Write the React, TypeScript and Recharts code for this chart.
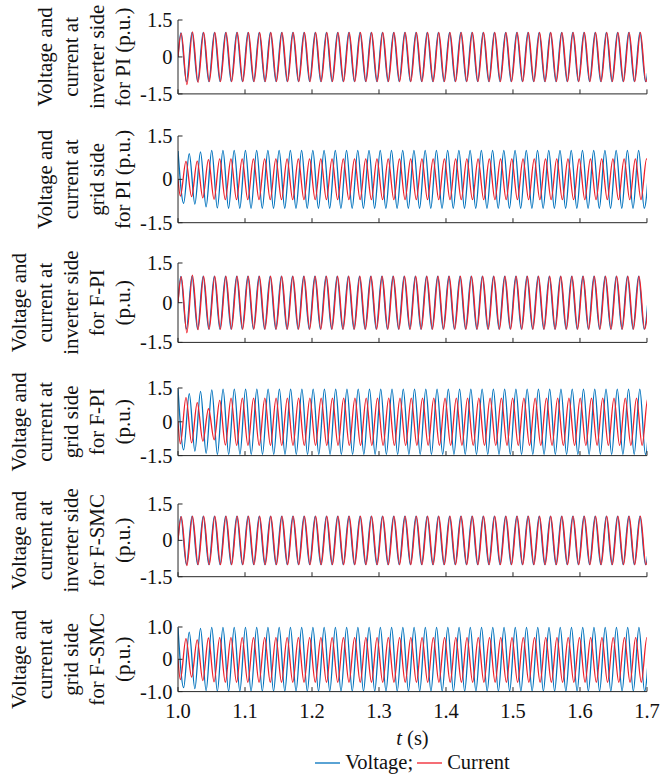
import React from "react"
import { LineChart, Line, XAxis, YAxis, Legend } from "recharts"

// Each trace is stored as its successive extrema (peak, trough, peak, ...) in p.u.,
// read off the figure. One extremum past 1.7 s is kept so the clip cuts the trace.

const TIME_TICKS = [1.0, 1.1, 1.2, 1.3, 1.4, 1.5, 1.6, 1.7]
const WIDE_TICKS = [-1.5, 0, 1.5]
const NARROW_TICKS = [-1, 0, 1]

// period of the waves in each panel (s)
const PERIODS = [0.016714, 0.01677, 0.016666, 0.016812, 0.016714, 0.01678]
// time of the first extremum of each trace (s)
const VOLTAGE_FIRST = [1.00418, 1.0, 1.00417, 1.0, 1.00418, 1.0]
const CURRENT_FIRST = [1.00488, 1.0035, 1.00487, 1.0035, 1.00488, 1.0035]
// value at t = 1.0 s when the trace does not start on an extremum
const VOLTAGE_START = [0, null, 0, null, 0, null]
const CURRENT_START = [0, 0, 0, 0, 0, 0]

const PI_INV_VOLTAGE = [
  0.98, -1, 1, -1, 1, -1, 1, -1, 1, -1,
  1, -1, 1, -1, 1, -1, 1, -1, 1, -1,
  1, -1, 1, -1, 1, -1, 1, -1, 1, -1,
  1, -1, 1, -1, 1, -1, 1, -1, 1, -1,
  1, -1, 1, -1, 1, -1, 1, -1, 1, -1,
  1, -1, 1, -1, 1, -1, 1, -1, 1, -1,
  1, -1, 1, -1, 1, -1, 1, -1, 1, -1,
  1, -1, 1, -1, 1, -1, 1, -1, 1, -1,
  1, -1, 1, -1, 1,
]
const PI_INV_CURRENT = [
  0.97, -1.12, 1.02, -1.03, 1, -1, 1, -1, 1, -1,
  1, -1, 1, -1, 1, -1, 1, -1, 1, -1,
  1, -1, 1, -1, 1, -1, 1, -1, 1, -1,
  1, -1, 1, -1, 1, -1, 1, -1, 1, -1,
  1, -1, 1, -1, 1, -1, 1, -1, 1, -1,
  1, -1, 1, -1, 1, -1, 1, -1, 1, -1,
  1, -1, 1, -1, 1, -1, 1, -1, 1, -1,
  1, -1, 1, -1, 1, -1, 1, -1, 1, -1,
  1, -1, 1, -1, 1,
]
const PI_GRID_VOLTAGE = [
  0.98, -0.83, 0.89, -0.86, 0.95, -0.95, 1, -0.99, 1, -1,
  1, -1, 1, -1, 1, -1, 1, -1, 1, -1,
  1, -1, 1, -1, 1, -1, 1, -1, 1, -1,
  1, -1, 1, -1, 1, -1, 1, -1, 1, -1,
  1, -1, 1, -1, 1, -1, 1, -1, 1, -1,
  1, -1, 1, -1, 1, -1, 1, -1, 1, -1,
  1, -1, 1, -1, 1, -1, 1, -1, 1, -1,
  1, -1, 1, -1, 1, -1, 1, -1, 1, -1,
  1, -1, 1, -1, 1,
]
const PI_GRID_CURRENT = [
  -0.58, 0.62, -0.6, 0.63, -0.64, 0.68, -0.69, 0.71, -0.7, 0.71,
  -0.7, 0.71, -0.7, 0.71, -0.7, 0.71, -0.7, 0.71, -0.7, 0.71,
  -0.7, 0.71, -0.7, 0.71, -0.7, 0.71, -0.7, 0.71, -0.7, 0.71,
  -0.7, 0.71, -0.7, 0.71, -0.7, 0.71, -0.7, 0.71, -0.7, 0.71,
  -0.7, 0.71, -0.7, 0.71, -0.7, 0.71, -0.7, 0.71, -0.7, 0.71,
  -0.7, 0.71, -0.7, 0.71, -0.7, 0.71, -0.7, 0.71, -0.7, 0.71,
  -0.7, 0.71, -0.7, 0.71, -0.7, 0.71, -0.7, 0.71, -0.7, 0.71,
  -0.7, 0.71, -0.7, 0.71, -0.7, 0.71, -0.7, 0.71, -0.7, 0.71,
  -0.7, 0.71, -0.7, 0.71, -0.7,
]
const FPI_INV_VOLTAGE = [
  0.99, -1, 1, -1, 1, -1, 1, -1, 1, -1,
  1, -1, 1, -1, 1, -1, 1, -1, 1, -1,
  1, -1, 1, -1, 1, -1, 1, -1, 1, -1,
  1, -1, 1, -1, 1, -1, 1, -1, 1, -1,
  1, -1, 1, -1, 1, -1, 1, -1, 1, -1,
  1, -1, 1, -1, 1, -1, 1, -1, 1, -1,
  1, -1, 1, -1, 1, -1, 1, -1, 1, -1,
  1, -1, 1, -1, 1, -1, 1, -1, 1, -1,
  1, -1, 1, -1, 1,
]
const FPI_INV_CURRENT = [
  0.98, -1.14, 1.04, -1.02, 1, -1, 1, -1, 1, -1,
  1, -1, 1, -1, 1, -1, 1, -1, 1, -1,
  1, -1, 1, -1, 1, -1, 1, -1, 1, -1,
  1, -1, 1, -1, 1, -1, 1, -1, 1, -1,
  1, -1, 1, -1, 1, -1, 1, -1, 1, -1,
  1, -1, 1, -1, 1, -1, 1, -1, 1, -1,
  1, -1, 1, -1, 1, -1, 1, -1, 1, -1,
  1, -1, 1, -1, 1, -1, 1, -1, 1, -1,
  1, -1, 1, -1, 1,
]
const FPI_GRID_VOLTAGE = [
  1.47, -1.25, 1.25, -1.3, 1.35, -1.4, 1.42, -1.45, 1.45, -1.45,
  1.45, -1.45, 1.45, -1.45, 1.45, -1.45, 1.45, -1.45, 1.45, -1.45,
  1.45, -1.45, 1.45, -1.45, 1.45, -1.45, 1.45, -1.45, 1.45, -1.45,
  1.45, -1.45, 1.45, -1.45, 1.45, -1.45, 1.45, -1.45, 1.45, -1.45,
  1.45, -1.45, 1.45, -1.45, 1.45, -1.45, 1.45, -1.45, 1.45, -1.45,
  1.45, -1.45, 1.45, -1.45, 1.45, -1.45, 1.45, -1.45, 1.45, -1.45,
  1.45, -1.45, 1.45, -1.45, 1.45, -1.45, 1.45, -1.45, 1.45, -1.45,
  1.45, -1.45, 1.45, -1.45, 1.45, -1.45, 1.45, -1.45, 1.45, -1.45,
  1.45, -1.45, 1.45, -1.45, 1.45,
]
const FPI_GRID_CURRENT = [
  -0.98, 1.07, -0.93, 0.85, -0.86, 0.58, -0.8, 0.95, -1.03, 1.05,
  -1.05, 1.05, -1.05, 1.05, -1.05, 1.05, -1.05, 1.05, -1.05, 1.05,
  -1.05, 1.05, -1.05, 1.05, -1.05, 1.05, -1.05, 1.05, -1.05, 1.05,
  -1.05, 1.05, -1.05, 1.05, -1.05, 1.05, -1.05, 1.05, -1.05, 1.05,
  -1.05, 1.05, -1.05, 1.05, -1.05, 1.05, -1.05, 1.05, -1.05, 1.05,
  -1.05, 1.05, -1.05, 1.05, -1.05, 1.05, -1.05, 1.05, -1.05, 1.05,
  -1.05, 1.05, -1.05, 1.05, -1.05, 1.05, -1.05, 1.05, -1.05, 1.05,
  -1.05, 1.05, -1.05, 1.05, -1.05, 1.05, -1.05, 1.05, -1.05, 1.05,
  -1.05, 1.05, -1.05, 1.05, -1.05,
]
const SMC_INV_VOLTAGE = [
  0.98, -1, 1, -1, 1, -1, 1, -1, 1, -1,
  1, -1, 1, -1, 1, -1, 1, -1, 1, -1,
  1, -1, 1, -1, 1, -1, 1, -1, 1, -1,
  1, -1, 1, -1, 1, -1, 1, -1, 1, -1,
  1, -1, 1, -1, 1, -1, 1, -1, 1, -1,
  1, -1, 1, -1, 1, -1, 1, -1, 1, -1,
  1, -1, 1, -1, 1, -1, 1, -1, 1, -1,
  1, -1, 1, -1, 1, -1, 1, -1, 1, -1,
  1, -1, 1, -1, 1,
]
const SMC_INV_CURRENT = [
  0.98, -1.04, 1, -1, 1, -1, 1, -1, 1, -1,
  1, -1, 1, -1, 1, -1, 1, -1, 1, -1,
  1, -1, 1, -1, 1, -1, 1, -1, 1, -1,
  1, -1, 1, -1, 1, -1, 1, -1, 1, -1,
  1, -1, 1, -1, 1, -1, 1, -1, 1, -1,
  1, -1, 1, -1, 1, -1, 1, -1, 1, -1,
  1, -1, 1, -1, 1, -1, 1, -1, 1, -1,
  1, -1, 1, -1, 1, -1, 1, -1, 1, -1,
  1, -1, 1, -1, 1,
]
const SMC_GRID_VOLTAGE = [
  0.97, -0.88, 0.84, -0.91, 0.96, -0.97, 0.99, -0.99, 0.99, -0.99,
  0.99, -0.99, 0.99, -0.99, 0.99, -0.99, 0.99, -0.99, 0.99, -0.99,
  0.99, -0.99, 0.99, -0.99, 0.99, -0.99, 0.99, -0.99, 0.99, -0.99,
  0.99, -0.99, 0.99, -0.99, 0.99, -0.99, 0.99, -0.99, 0.99, -0.99,
  0.99, -0.99, 0.99, -0.99, 0.99, -0.99, 0.99, -0.99, 0.99, -0.99,
  0.99, -0.99, 0.99, -0.99, 0.99, -0.99, 0.99, -0.99, 0.99, -0.99,
  0.99, -0.99, 0.99, -0.99, 0.99, -0.99, 0.99, -0.99, 0.99, -0.99,
  0.99, -0.99, 0.99, -0.99, 0.99, -0.99, 0.99, -0.99, 0.99, -0.99,
  0.99, -0.99, 0.99, -0.99, 0.99,
]
const SMC_GRID_CURRENT = [
  -0.63, 0.64, -0.55, 0.6, -0.66, 0.66, -0.7, 0.67, -0.71, 0.67,
  -0.71, 0.67, -0.71, 0.67, -0.71, 0.67, -0.71, 0.67, -0.71, 0.67,
  -0.71, 0.67, -0.71, 0.67, -0.71, 0.67, -0.71, 0.67, -0.71, 0.67,
  -0.71, 0.67, -0.71, 0.67, -0.71, 0.67, -0.71, 0.67, -0.71, 0.67,
  -0.71, 0.67, -0.71, 0.67, -0.71, 0.67, -0.71, 0.67, -0.71, 0.67,
  -0.71, 0.67, -0.71, 0.67, -0.71, 0.67, -0.71, 0.67, -0.71, 0.67,
  -0.71, 0.67, -0.71, 0.67, -0.71, 0.67, -0.71, 0.67, -0.71, 0.67,
  -0.71, 0.67, -0.71, 0.67, -0.71, 0.67, -0.71, 0.67, -0.71, 0.67,
  -0.71, 0.67, -0.71, 0.67, -0.71,
]

const TITLES = [
  ["Voltage and", "current at", "inverter side", "for PI (p.u.)"],
  ["Voltage and", "current at", "grid side", "for PI (p.u.)"],
  ["Voltage and", "current at", "inverter side", "for F-PI", "(p.u.)"],
  ["Voltage and", "current at", "grid side", "for F-PI", "(p.u.)"],
  ["Voltage and", "current at", "inverter side", "for F-SMC", "(p.u.)"],
  ["Voltage and", "current at", "grid side", "for F-SMC", "(p.u.)"],
]

const VOLTAGES = [PI_INV_VOLTAGE, PI_GRID_VOLTAGE, FPI_INV_VOLTAGE, FPI_GRID_VOLTAGE, SMC_INV_VOLTAGE, SMC_GRID_VOLTAGE]
const CURRENTS = [PI_INV_CURRENT, PI_GRID_CURRENT, FPI_INV_CURRENT, FPI_GRID_CURRENT, SMC_INV_CURRENT, SMC_GRID_CURRENT]
const Y_TICKS = [WIDE_TICKS, WIDE_TICKS, WIDE_TICKS, WIDE_TICKS, WIDE_TICKS, NARROW_TICKS]
const LEGEND_ORDER = ["Voltage", "Current"]

// layout (page pixels)
const PLOT_TOP = [20.3, 136, 263.3, 387.7, 504.3, 626.7]
const PLOT_BOTTOM = [94.2, 222.7, 342.7, 455.3, 577, 691.3]
const PAGE_W = 661
const PAGE_H = 776
const PLOT_LEFT = 178
const PLOT_RIGHT = 647
const PAD = 10
const X_AXIS_H = 2

const BLUE = "#0072BD"
const RED = "#F0202A"
const AXIS = "#262626"
const FONT = "'Liberation Serif', 'Times New Roman', serif"
const textStyle = { fontFamily: FONT }

function trace(start: number | null, first: number, half: number, extrema: number[]) {
  const pts: { t: number; v: number }[] = []
  if (start !== null) pts.push({ t: 1.0, v: start })
  extrema.forEach((v, k) => pts.push({ t: first + k * half, v }))
  return pts
}

const fmtValue = (v: number) => (v === 0 ? "0" : v.toFixed(1))

const ValueTick = (props: any) => {
  const { x, y, payload } = props
  return (
    <g>
      <line x1={x} x2={x + 4.5} y1={y} y2={y} stroke={AXIS} strokeWidth={1} />
      <text x={x - 5.5} y={y} textAnchor="end" dominantBaseline="central" style={textStyle} fontSize={20.5} fill="#111">
        {fmtValue(payload.value)}
      </text>
    </g>
  )
}

// x and y of the tick are the axis line itself (tickSize = tickMargin = 0)
const TimeTick = (props: any) => {
  const { x, y, payload, showLabel } = props
  return (
    <g>
      <line x1={x} x2={x} y1={y} y2={y - 4.5} stroke={AXIS} strokeWidth={1} />
      {showLabel && (
        <text x={x} y={y + 19} textAnchor="middle" dominantBaseline="central" style={textStyle} fontSize={20.5} fill="#111">
          {Number(payload.value).toFixed(1)}
        </text>
      )}
    </g>
  )
}

const renderLegend = (props: any) => {
  const items = [...(props.payload || [])].sort(
    (a: any, b: any) => LEGEND_ORDER.indexOf(a.value) - LEGEND_ORDER.indexOf(b.value)
  )
  return (
    <div style={{ display: "flex", justifyContent: "center", alignItems: "center", height: 24, fontFamily: FONT, fontSize: 20.5, color: "#111" }}>
      {items.map((it: any, i: number) => (
        <div key={i} style={{ display: "flex", alignItems: "center", marginLeft: i === 0 ? 0 : 4 }}>
          <svg width={25} height={10} style={{ marginRight: 5 }}>
            <line x1={0} x2={25} y1={5} y2={5} stroke={it.color} strokeWidth={1.3} />
          </svg>
          <span>{i < items.length - 1 ? `${it.value};` : it.value}</span>
        </div>
      ))}
    </div>
  )
}

function Panel({ index }: { index: number }) {
  const last = index === TITLES.length - 1
  const plotH = PLOT_BOTTOM[index] - PLOT_TOP[index]
  const bottomPad = last ? PAGE_H - PLOT_BOTTOM[index] : PAD
  const chartTop = PLOT_TOP[index] - PAD
  const ticks = Y_TICKS[index]
  const half = PERIODS[index] / 2
  const voltage = trace(VOLTAGE_START[index], VOLTAGE_FIRST[index], half, VOLTAGES[index])
  const current = trace(CURRENT_START[index], CURRENT_FIRST[index], half, CURRENTS[index])
  const title = TITLES[index]

  const titleLabel = () => {
    const cy = PAD + plotH / 2
    const x0 = 123 - (title.length - 1) * 26
    return (
      <g>
        {title.map((s, i) => (
          <text
            key={i}
            transform={`translate(${x0 + i * 26}, ${cy}) rotate(-90)`}
            textAnchor="middle"
            dominantBaseline="central"
            style={textStyle}
            fontSize={21}
            fill="#111"
          >
            {s}
          </text>
        ))}
      </g>
    )
  }

  const timeLabel = () => (
    <text
      x={(PLOT_LEFT + PLOT_RIGHT) / 2}
      y={PAD + plotH + 46}
      textAnchor="middle"
      dominantBaseline="central"
      style={textStyle}
      fontSize={20.5}
      fill="#111"
    >
      <tspan fontStyle="italic">t</tspan>
      {" (s)"}
    </text>
  )

  return (
    <div style={{ position: "absolute", left: 0, top: chartTop }}>
      <LineChart
        width={PAGE_W}
        height={plotH + PAD + bottomPad}
        margin={{ top: PAD, right: PAGE_W - PLOT_RIGHT, bottom: bottomPad - X_AXIS_H, left: 0 }}
      >
        <XAxis
          type="number"
          dataKey="t"
          domain={[1, 1.7]}
          ticks={TIME_TICKS}
          interval={0}
          allowDataOverflow
          height={X_AXIS_H}
          tickSize={0}
          tickMargin={0}
          tickLine={false}
          axisLine={{ stroke: AXIS, strokeWidth: 1 }}
          tick={(p: any) => <TimeTick {...p} showLabel={last} />}
          label={last ? timeLabel : undefined}
        />
        <YAxis
          type="number"
          domain={[ticks[0], ticks[ticks.length - 1]]}
          ticks={ticks}
          interval={0}
          width={PLOT_LEFT}
          tickSize={0}
          tickMargin={0}
          tickLine={false}
          axisLine={{ stroke: AXIS, strokeWidth: 1 }}
          tick={(p: any) => <ValueTick {...p} />}
          label={titleLabel}
        />
        <Line
          data={voltage}
          dataKey="v"
          name="Voltage"
          type="monotone"
          stroke={BLUE}
          strokeWidth={1.3}
          dot={false}
          activeDot={false}
          isAnimationActive={false}
        />
        <Line
          data={current}
          dataKey="v"
          name="Current"
          type="monotone"
          stroke={RED}
          strokeWidth={1.3}
          dot={false}
          activeDot={false}
          isAnimationActive={false}
        />
        {last && (
          <Legend
            layout="horizontal"
            verticalAlign="middle"
            align="center"
            content={renderLegend}
            wrapperStyle={{ top: 763 - 12 - chartTop, left: PLOT_LEFT, width: PLOT_RIGHT - PLOT_LEFT, height: 24 }}
          />
        )}
      </LineChart>
    </div>
  )
}

export default function App() {
  return (
    <div style={{ position: "absolute", left: 0, top: 0, width: PAGE_W, height: PAGE_H, background: "#fff", fontFamily: FONT }}>
      <style>{"body{margin:0} svg.recharts-surface{overflow:visible}"}</style>
      {TITLES.map((_, i) => (
        <Panel key={i} index={i} />
      ))}
    </div>
  )
}
